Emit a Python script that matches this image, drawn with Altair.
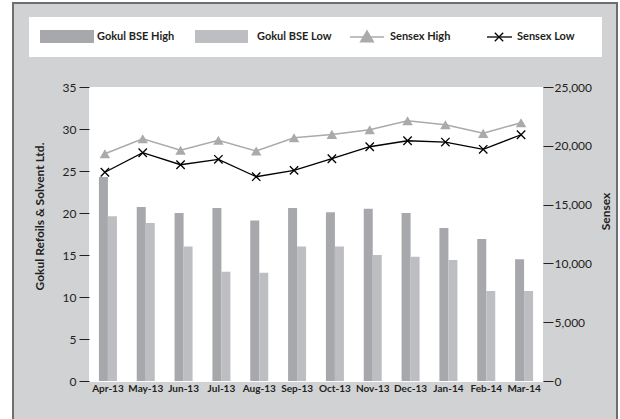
import altair as alt
import pandas as pd

months = ["Apr-13", "May-13", "Jun-13", "Jul-13", "Aug-13", "Sep-13",
          "Oct-13", "Nov-13", "Dec-13", "Jan-14", "Feb-14", "Mar-14"]
gokul_high = [24.3, 20.7, 20.0, 20.6, 19.1, 20.6, 20.1, 20.5, 20.0, 18.2, 16.9, 14.5]
gokul_low = [19.6, 18.8, 16.0, 13.0, 12.9, 16.0, 16.0, 15.0, 14.8, 14.4, 10.7, 10.7]
sensex_high = [19330, 20600, 19620, 20470, 19560, 20690, 20970, 21370, 22130, 21790, 21060, 21960]
sensex_low = [17750, 19410, 18390, 18850, 17370, 17910, 18900, 19920, 20430, 20320, 19700, 20940]

FONT = "Lato"
C_HIGH = "#a7a8ab"
C_LOW = "#bdbec1"
C_SHIGH = "#a9aaac"
C_DARK = "#231f20"
C_FRAME = "#d1d2d4"

W, H = 454, 294
STEP = W / len(months)

bars_df = pd.DataFrame({
    "month": months * 2,
    "series": ["Gokul BSE High"] * 12 + ["Gokul BSE Low"] * 12,
    "value": gokul_high + gokul_low,
})
sx_df = pd.DataFrame({
    "month": months * 2,
    "series": ["Sensex High"] * 12 + ["Sensex Low"] * 12,
    "value": sensex_high + sensex_low,
})
one = pd.DataFrame({"k": [0]})

xenc = alt.X("month:N", sort=months, title=None,
             scale=alt.Scale(paddingInner=0, paddingOuter=0),
             axis=alt.Axis(labelAngle=0, ticks=False, domain=False, labelFont=FONT,
                           labelFontWeight="bold", labelFontSize=10, labelColor=C_DARK,
                           labelPadding=2, zindex=1))

frame = alt.Chart(one).mark_rect(fill=C_FRAME, stroke="#6d6e71", strokeWidth=2).encode(
    x=alt.value(-76), x2=alt.value(528), y=alt.value(-84), y2=alt.value(340))
legend_box = alt.Chart(one).mark_rect(fill="white").encode(
    x=alt.value(-60), x2=alt.value(513), y=alt.value(-70), y2=alt.value(-30))
plot_bg = alt.Chart(one).mark_rect(fill="white").encode(
    x=alt.value(0), x2=alt.value(W), y=alt.value(0), y2=alt.value(H + 1))

bars = alt.Chart(bars_df).mark_bar().encode(
    x=xenc,
    xOffset=alt.XOffset("series:N", scale=alt.Scale(paddingInner=0, paddingOuter=0,
                                                    range=[STEP / 2 - 9, STEP / 2 + 9])),
    y=alt.Y("value:Q", scale=alt.Scale(domain=[0, 35], nice=False),
            axis=alt.Axis(values=[0, 5, 10, 15, 20, 25, 30, 35], grid=False, domain=False,
                          tickSize=10, tickColor=C_DARK, labelFont=FONT, labelFontSize=12,
                          labelColor=C_DARK, labelPadding=3, zindex=1,
                          title="Gokul Refoils & Solvent Ltd.", titleFont=FONT,
                          titleFontSize=12, titleFontWeight="bold", titleColor=C_DARK,
                          titleAngle=270, titleAlign="center", titleBaseline="middle",
                          titleX=-50, titleY=129)),
    color=alt.Color("series:N", scale=alt.Scale(domain=["Gokul BSE High", "Gokul BSE Low"],
                                                range=[C_HIGH, C_LOW]), legend=None),
)

xline = alt.X("month:N", sort=months, title=None, bandPosition=0.42,
              scale=alt.Scale(paddingInner=0, paddingOuter=0))
yaxis_r = alt.Axis(orient="right", values=[0, 5000, 10000, 15000, 20000, 25000],
                   labelExpr="format(datum.value, ',')",
                   grid=False, domain=False, tickSize=10, tickColor=C_DARK, labelFont=FONT,
                   labelFontSize=12, labelColor=C_DARK, labelPadding=1, zindex=1,
                   title="Sensex", titleFont=FONT, titleFontSize=12, titleFontWeight="bold",
                   titleColor=C_DARK, titleAngle=270, titleAlign="center",
                   titleBaseline="middle", titleX=62, titleY=124)
yr = alt.Y("value:Q", scale=alt.Scale(domain=[0, 25000], nice=False), axis=yaxis_r)

shigh = alt.Chart(sx_df).transform_filter(alt.datum.series == "Sensex High")
slow = alt.Chart(sx_df).transform_filter(alt.datum.series == "Sensex Low")
s_high_line = shigh.mark_line(color=C_SHIGH, strokeWidth=1.5).encode(x=xline, y=yr)
s_high_pts = shigh.mark_point(shape="triangle-up", filled=True, color=C_SHIGH, size=110,
                              opacity=1).encode(x=xline, y=yr)
s_low_line = slow.mark_line(color="black", strokeWidth=1.3).encode(x=xline, y=yr)
XPATH = "M-1,-1L1,1M-1,1L1,-1"
s_low_pts = slow.mark_point(shape=XPATH, filled=False, color="black", size=70,
                            strokeWidth=1.3, opacity=1).encode(x=xline, y=yr)
sensex = alt.layer(s_high_line, s_high_pts, s_low_line, s_low_pts)

# legend items
LY = -50
leg_names = ["Gokul BSE High", "Gokul BSE Low", "Sensex High", "Sensex Low"]
leg_text_x = [8, 168, 301, 428]
lg = []
lg.append(alt.Chart(one).mark_rect(fill=C_HIGH).encode(
    x=alt.value(-49), x2=alt.value(5), y=alt.value(-57), y2=alt.value(-44)))
lg.append(alt.Chart(one).mark_rect(fill=C_LOW).encode(
    x=alt.value(106), x2=alt.value(159), y=alt.value(-57), y2=alt.value(-44)))
lg.append(alt.Chart(one).mark_rule(color=C_SHIGH, strokeWidth=1.5).encode(
    x=alt.value(261), x2=alt.value(295), y=alt.value(LY)))
lg.append(alt.Chart(one).mark_point(shape="triangle-up", filled=True, color=C_SHIGH,
                                    size=230, opacity=1).encode(
    x=alt.value(278), y=alt.value(LY - 1)))
lg.append(alt.Chart(one).mark_rule(color="black", strokeWidth=1.3).encode(
    x=alt.value(398), x2=alt.value(423), y=alt.value(LY)))
lg.append(alt.Chart(one).mark_point(shape=XPATH, filled=False, color="black", size=70,
                                    strokeWidth=1.3, opacity=1).encode(
    x=alt.value(410), y=alt.value(LY)))
for name, tx in zip(leg_names, leg_text_x):
    lg.append(alt.Chart(one).mark_text(text=name, font=FONT, fontSize=11, fontWeight="bold",
                                       color=C_DARK, align="left", baseline="middle").encode(
        x=alt.value(tx), y=alt.value(LY)))

chart = alt.layer(frame, legend_box, plot_bg, bars, sensex, *lg).resolve_scale(
    y="independent"
).properties(
    width=W, height=H,
    autosize=alt.AutoSizeParams(type="none"),
    padding={"left": 89, "top": 87, "right": 77, "bottom": 38},
    background="white",
).configure_view(strokeWidth=0)

chart.save("out.html", embed_options={"renderer": "svg", "actions": False})
